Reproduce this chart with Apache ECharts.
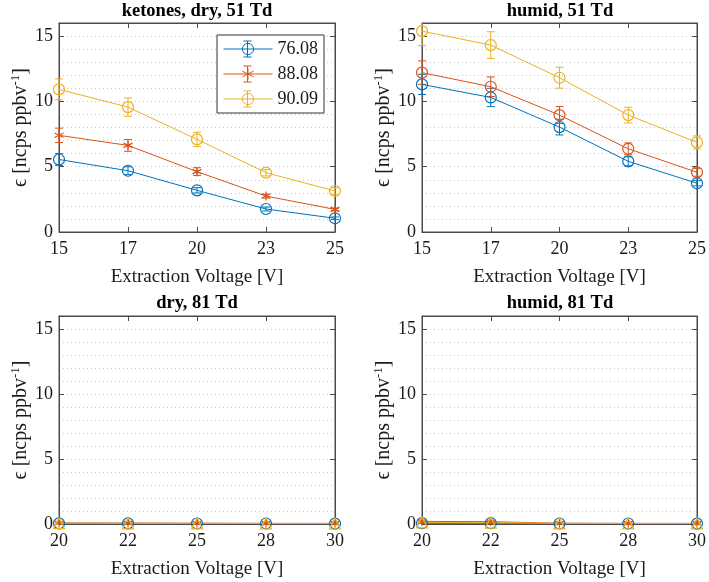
<!DOCTYPE html>
<html>
<head>
<meta charset="utf-8">
<script src="https://cdn.jsdelivr.net/npm/echarts@6/dist/echarts.min.js"></script>
<style>html,body{margin:0;padding:0;background:#fff;}#c{width:709px;height:582px;}</style>
</head>
<body>
<div id="c"></div>
<script>
// ---- data ----
const xTop = ['15', '17', '20', '23', '25'];
const xBottom = ['20', '22', '25', '28', '30'];
const seriesNames = ['76.08', '88.08', '90.09'];
const yTickLabels = [0, 5, 10, 15];

const dry51_76 = [5.55, 4.69, 3.19, 1.76, 1.05];
const dry51_76_err = [0.45, 0.3, 0.2, 0.15, 0.1];
const dry51_88 = [7.40, 6.63, 4.62, 2.75, 1.73];
const dry51_88_err = [0.55, 0.45, 0.3, 0.15, 0.1];
const dry51_90 = [10.92, 9.56, 7.09, 4.54, 3.14];
const dry51_90_err = [0.8, 0.7, 0.55, 0.25, 0.25];

const humid51_76 = [11.3, 10.3, 8.03, 5.41, 3.73];
const humid51_76_err = [0.77, 0.7, 0.6, 0.35, 0.2];
const humid51_88 = [12.2, 11.12, 8.95, 6.37, 4.57];
const humid51_88_err = [0.9, 0.75, 0.65, 0.45, 0.3];
const humid51_90 = [15.38, 14.31, 11.81, 8.95, 6.86];
const humid51_90_err = [1.1, 1.02, 0.8, 0.6, 0.5];

const dry81_76 = [0.05, 0.05, 0.04, 0.04, 0.03];
const dry81_76_err = [0.02, 0.02, 0.02, 0.02, 0.02];
const dry81_88 = [0.08, 0.07, 0.06, 0.05, 0.05];
const dry81_88_err = [0.02, 0.02, 0.02, 0.02, 0.02];
const dry81_90 = [0.06, 0.05, 0.05, 0.04, 0.04];
const dry81_90_err = [0.02, 0.02, 0.02, 0.02, 0.02];

const humid81_76 = [0.06, 0.06, 0.04, 0.04, 0.03];
const humid81_76_err = [0.02, 0.02, 0.02, 0.02, 0.02];
const humid81_88 = [0.2, 0.18, 0.06, 0.05, 0.05];
const humid81_88_err = [0.03, 0.03, 0.02, 0.02, 0.02];
const humid81_90 = [0.12, 0.1, 0.05, 0.04, 0.04];
const humid81_90_err = [0.03, 0.03, 0.02, 0.02, 0.02];

// ---- styling ----
const colors = ['#0072BD', '#D95319', '#EDB120'];
const FONT = 'Liberation Serif';
const axisColor = '#4a4a4a';
const txtColor = '#1a1a1a';
const STAR = 'path://M5,0L5,10M0.67,2.5L9.33,7.5M0.67,7.5L9.33,2.5';

const panels = [
  { title: 'ketones, dry, 51 Td', cats: xTop, grid: { left: 59, top: 23, width: 276, height: 209 },
    vals: [dry51_76, dry51_88, dry51_90], errs: [dry51_76_err, dry51_88_err, dry51_90_err],
    symbols: ['circle', STAR, 'circle'], titleY: 11 },
  { title: 'humid, 51 Td', cats: xTop, grid: { left: 422, top: 23, width: 276, height: 209 },
    vals: [humid51_76, humid51_88, humid51_90], errs: [humid51_76_err, humid51_88_err, humid51_90_err],
    symbols: ['circle', 'circle', 'circle'], titleY: 11 },
  { title: 'dry, 81 Td', cats: xBottom, grid: { left: 59, top: 316, width: 276, height: 208 },
    vals: [dry81_76, dry81_88, dry81_90], errs: [dry81_76_err, dry81_88_err, dry81_90_err],
    symbols: ['circle', STAR, 'triangle'], titleY: 303 },
  { title: 'humid, 81 Td', cats: xBottom, grid: { left: 422, top: 316, width: 276, height: 208 },
    vals: [humid81_76, humid81_88, humid81_90], errs: [humid81_76_err, humid81_88_err, humid81_90_err],
    symbols: ['circle', STAR, 'triangle'], titleY: 303 }
];

const grid = [], xAxis = [], yAxis = [], series = [], graphic = [];

panels.forEach((p, i) => {
  grid.push(Object.assign({ containLabel: false, show: true, borderColor: axisColor, borderWidth: 1,
                            backgroundColor: 'rgba(0,0,0,0)' }, p.grid));
  graphic.push({
    type: 'text', x: p.grid.left + p.grid.width / 2, y: p.titleY,
    style: { text: p.title, fontFamily: FONT, fontSize: 18.5, fontWeight: 'bold', fill: '#000',
             align: 'center', verticalAlign: 'middle', textAlign: 'center', textVerticalAlign: 'middle' }
  });
  const catAxisBase = {
    type: 'category', data: p.cats, gridIndex: i, boundaryGap: false,
    axisLine: { show: true, onZero: false, lineStyle: { color: axisColor, width: 1 } },
    axisTick: { show: true, inside: true, length: 5, lineStyle: { color: axisColor } },
    splitLine: { show: false }
  };
  xAxis.push(Object.assign({}, catAxisBase, {
    position: 'bottom',
    axisLabel: { fontFamily: FONT, fontSize: 18, color: txtColor, margin: 8 },
    name: 'Extraction Voltage [V]', nameLocation: 'middle', nameGap: 36,
    nameTextStyle: { fontFamily: FONT, fontSize: 19, color: txtColor }
  }));
  xAxis.push(Object.assign({}, catAxisBase, { position: 'top', axisLabel: { show: false } }));

  const valBase = {
    type: 'value', gridIndex: i, min: 0, max: 16, interval: 5,
    axisLine: { show: true, onZero: false, lineStyle: { color: axisColor, width: 1 } },
    axisTick: { show: true, inside: true, length: 5, lineStyle: { color: axisColor } },
    splitLine: { show: false }
  };
  yAxis.push(Object.assign({}, valBase, {
    position: 'left',
    axisLabel: { fontFamily: FONT, fontSize: 18, color: txtColor, margin: 6,
                 formatter: v => (yTickLabels.indexOf(v) >= 0 ? String(v) : '') },
    name: '{t|ϵ [ncps ppbv}{s|-1}{t|]}', nameLocation: 'middle', nameGap: 23,
    nameTextStyle: { fontFamily: FONT, fontSize: 20, color: txtColor,
      rich: { t: { fontFamily: FONT, fontSize: 20, color: txtColor, lineHeight: 24 },
              s: { fontFamily: FONT, fontSize: 13, color: txtColor, lineHeight: 13, verticalAlign: 'top' } } }
  }));
  yAxis.push(Object.assign({}, valBase, { position: 'right', axisLabel: { show: false } }));
  yAxis.push({
    type: 'value', gridIndex: i, min: 0, max: 16, interval: 1, position: 'left',
    axisLine: { show: false, onZero: false }, axisTick: { show: false }, axisLabel: { show: false },
    splitLine: { show: true, lineStyle: { color: '#c4c4c4', type: [1, 3], width: 1 } }
  });

  p.vals.forEach((vals, k) => {
    const c = colors[k];
    const errs = p.errs[k];
    series.push({
      type: 'custom', xAxisIndex: 2 * i, yAxisIndex: 3 * i, z: 3,
      data: vals.map((v, j) => [j, v - errs[j], v + errs[j]]),
      encode: { x: 0, y: [1, 2] },
      renderItem: (params, api) => {
        const cs = params.coordSys;
        const top = api.coord([api.value(0), api.value(2)]);
        const bot = api.coord([api.value(0), api.value(1)]);
        const x = top[0];
        const w = 4;
        let y1 = top[1], y2 = bot[1];
        const children = [];
        const capTop = y1 >= cs.y;
        const capBot = y2 <= cs.y + cs.height;
        y1 = Math.max(y1, cs.y);
        y2 = Math.min(y2, cs.y + cs.height);
        const st = { stroke: c, lineWidth: 1 };
        children.push({ type: 'line', shape: { x1: x, y1: y1, x2: x, y2: y2 }, style: st });
        if (capTop) children.push({ type: 'line', shape: { x1: x - w, y1: y1, x2: x + w, y2: y1 }, style: st });
        if (capBot) children.push({ type: 'line', shape: { x1: x - w, y1: y2, x2: x + w, y2: y2 }, style: st });
        return { type: 'group', children: children };
      }
    });
    series.push({
      type: 'line', name: seriesNames[k], xAxisIndex: 2 * i, yAxisIndex: 3 * i, z: 4,
      data: vals, symbol: p.symbols[k], symbolSize: p.symbols[k] === STAR ? 9 : 11,
      showAllSymbol: true,
      lineStyle: { color: c, width: 1 },
      itemStyle: { color: 'rgba(0,0,0,0)', borderColor: c, borderWidth: 1.2 },
      emphasis: { disabled: true }
    });
  });
});

// error-bar glyphs drawn over the legend icons
const legendLeft = 217, legendTop = 35, legendPadL = 6, legendPadT = 2, legendItemW = 49, legendRowH = 25;
seriesNames.forEach((n, k) => {
  const cx = legendLeft + legendPadL + legendItemW / 2;
  const cy = legendTop + legendPadT + 12 + k * legendRowH;
  const st = { stroke: colors[k], lineWidth: 1 };
  graphic.push({ type: 'group', z: 200, children: [
    { type: 'line', z: 200, shape: { x1: cx, y1: cy - 8, x2: cx, y2: cy + 8 }, style: st },
    { type: 'line', z: 200, shape: { x1: cx - 4, y1: cy - 8, x2: cx + 4, y2: cy - 8 }, style: st },
    { type: 'line', z: 200, shape: { x1: cx - 4, y1: cy + 8, x2: cx + 4, y2: cy + 8 }, style: st }
  ]});
});

const option = {
  animation: false,
  backgroundColor: '#fff',
  grid: grid, xAxis: xAxis, yAxis: yAxis, series: series, graphic: graphic,
  legend: {
    data: seriesNames, orient: 'vertical', left: legendLeft, top: legendTop,
    backgroundColor: '#fff', borderColor: '#333', borderWidth: 1,
    padding: [legendPadT, 6, legendPadT, legendPadL], itemGap: 1, itemWidth: legendItemW, itemHeight: 14,
    lineStyle: { width: 1 },
    itemStyle: { borderWidth: 1 },
    textStyle: { fontFamily: FONT, fontSize: 18, color: txtColor, lineHeight: 24 },
    selectedMode: false
  }
};

const chart = echarts.init(document.getElementById('c'), null, { renderer: 'canvas' });
chart.setOption(option);
</script>
</body>
</html>
